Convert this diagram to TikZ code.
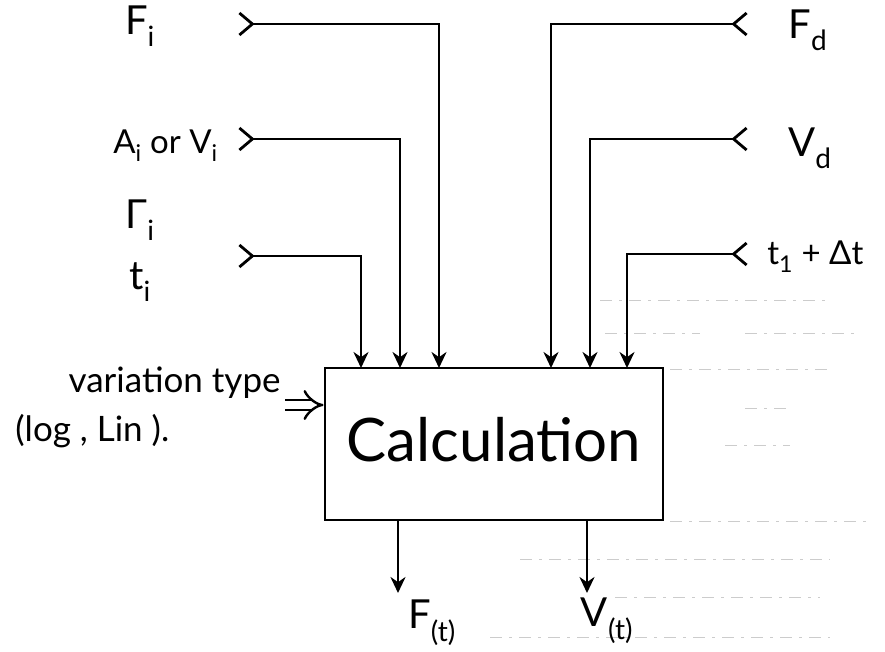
\documentclass[tikz,border=0pt]{standalone}
\usepackage{fontspec}
\setmainfont{Lato}
\usetikzlibrary{arrows.meta}
\begin{document}
\begin{tikzpicture}[x=1pt,y=-1pt,line width=2.8pt,
  lbl/.style={font=\fontsize{40}{44}\selectfont,inner sep=0pt},
  small/.style={font=\fontsize{33}{36}\selectfont,inner sep=0pt},
  hand/.style={font=\fontsize{35}{38}\selectfont,inner sep=0pt},
  feed/.style={{Straight Barb[reversed,length=13pt,width=22pt]}-{Stealth[length=16pt,width=15pt]}},
  outarrow/.style={-{Stealth[length=16pt,width=15pt]}},
  ruled/.style={line width=1pt,gray!40,dash pattern=on 12pt off 7pt on 3pt off 7pt}]
\useasboundingbox (0,0) rectangle (885,652);

% faint ruled-paper traces
\draw[ruled] (600,300) -- (830,300);
\draw[ruled] (605,333) -- (700,333) (745,333) -- (860,333);
\draw[ruled] (670,369) -- (830,369);
\draw[ruled] (745,408) -- (790,408);
\draw[ruled] (725,445) -- (790,445);
\draw[ruled] (670,521) -- (870,521);
\draw[ruled] (520,559) -- (830,559);
\draw[ruled] (615,597) -- (820,597);
\draw[ruled] (490,637) -- (830,637);

% main box
\node[draw,minimum width=338pt,minimum height=152pt,inner sep=0pt] (calc) at (494,444) {};
\node[font=\fontsize{60}{64}\selectfont,inner sep=0pt] (calctxt) at (494,440) {Calculation};

% left input labels
\node[lbl] (Fi) at (140,26) {F\textsubscript{i}};
\node[small,anchor=west] (Ai) at (112,146) {A\textsubscript{i} or V\textsubscript{i}};
\node[lbl] (Gi) at (140,220) {Γ\textsubscript{i}};
\node[lbl] (ti) at (140,282) {t\textsubscript{i}};

% right input labels
\node[lbl] (Fd) at (808,30) {F\textsubscript{d}};
\node[lbl] (Vd) at (810,148) {V\textsubscript{d}};
\node[small,anchor=west] (tdt) at (766,257) {t\textsubscript{1} + Δt};

% connector endpoints
\coordinate (sFi) at (238,24);
\coordinate (sAi) at (238,139);
\coordinate (sGi) at (238,256);
\coordinate (sFd) at (748,24);
\coordinate (sVd) at (748,139);
\coordinate (stdt) at (748,254);
\coordinate (in1) at (361,368);
\coordinate (in2) at (400,368);
\coordinate (in3) at (439,368);
\coordinate (in4) at (551,368);
\coordinate (in5) at (590,368);
\coordinate (in6) at (627,368);

\draw[feed] (sFi) -| (in3);
\draw[feed] (sAi) -| (in2);
\draw[feed] (sGi) -| (in1);
\draw[feed] (sFd) -| (in4);
\draw[feed] (sVd) -| (in5);
\draw[feed] (stdt) -| (in6);

% variation type input
\node[hand,anchor=east] (vt) at (282,383) {variation type};
\node[hand,anchor=west] (loglin) at (14,431) {(log , Lin ).};
\coordinate (vts) at (285,405);
\draw[double,double distance=8pt,line width=2.4pt,-{Implies}] (vts) -- (vts -| calc.west);

% outputs
\coordinate (o1) at (398,520);
\coordinate (o2) at (587,520);
\node[lbl,anchor=north] (Ft) at (432,598) {F\textsubscript{(t)}};
\node[lbl,anchor=north] (Vt) at (607,596) {V\textsubscript{(t)}};
\draw[outarrow] (o1) -- (o1 |- 0,593);
\draw[outarrow] (o2) -- (o2 |- 0,593);
\end{tikzpicture}
\end{document}
